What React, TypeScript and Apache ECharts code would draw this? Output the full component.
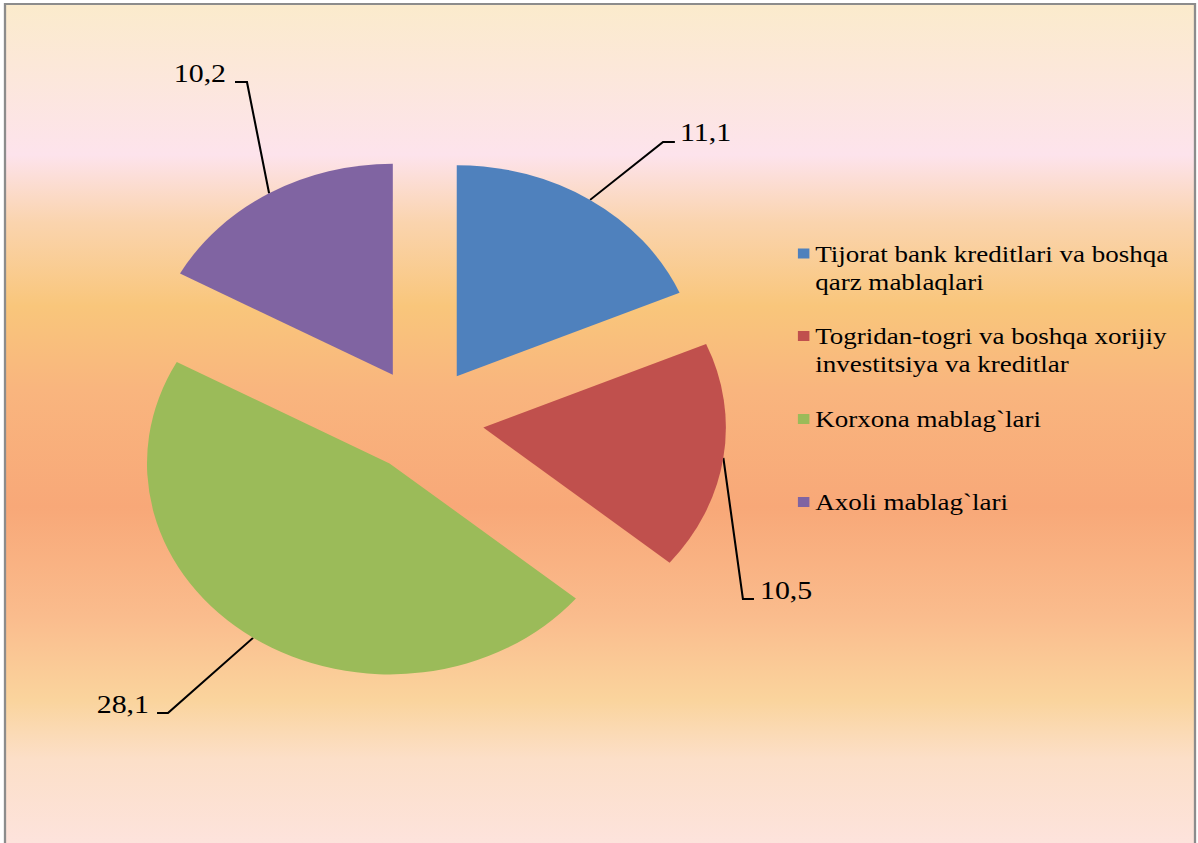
import React, { useEffect, useRef } from 'react';
import * as echarts from 'echarts';

// ---- data ----
const categories = [
  'Tijorat bank kreditlari va boshqa qarz mablaqlari',
  'Togridan-togri va boshqa xorijiy investitsiya va kreditlar',
  'Korxona mablag`lari',
  'Axoli mablag`lari',
];
const values = [11.1, 10.5, 28.1, 10.2];
const legendLines = [
  ['Tijorat bank kreditlari va boshqa', 'qarz mablaqlari'],
  ['Togridan-togri va boshqa xorijiy', 'investitsiya va kreditlar'],
  ['Korxona mablag`lari'],
  ['Axoli mablag`lari'],
];

// ---- styles / layout ----
const colors = ['#4F81BD', '#C0504D', '#9BBB59', '#8064A2'];
const FONT = "'Liberation Serif', 'Times New Roman', serif";
const PAGE_W = 1198;
const PAGE_H = 843;
const BASE_W = 1042; // chart drawn at this width and stretched to the page width
const SX = PAGE_W / BASE_W;
const CX = 368.4;
const CY = 420;
const RADIUS = 211;
const EXPLODE = 52.5;
const LEGEND_LEFT = 694;
const LEGEND_ICON_CENTER = [253.5, 336, 419, 502];
const LINE_H = 28;
const ICON = 10;
// square at the top of a tall box, so the icon sits beside the first text line
const TALL_ICON_H = ICON + LINE_H;
const TALL_ICON = `path://M0,0H${ICON}V${ICON}H0Z M0,${TALL_ICON_H - 0.01}H0.01V${TALL_ICON_H}H0Z`;
const LABEL_LAYOUT = [
  { x: 591.4, y: 132, align: 'left', bend: [576.7, 142], end: [587, 142] },
  { x: 661, y: 590, align: 'left', bend: [646.2, 599], end: [655.8, 599] },
  { x: 129.6, y: 704.5, align: 'right', bend: [146.1, 713], end: [136.6, 713] },
  { x: 196.6, y: 73, align: 'right', bend: [214.8, 82], end: [204.4, 82] },
];

export default function App() {
  const ref = useRef<HTMLDivElement>(null);

  useEffect(() => {
    if (!ref.current) return;
    const chart = echarts.init(ref.current, undefined, { renderer: 'svg' });

    const total = values.reduce((a, b) => a + b, 0);
    let acc = 0;
    const mids = values.map((v) => {
      const m = ((acc + v / 2) / total) * 2 * Math.PI;
      acc += v;
      return m;
    });

    const series = categories.map((_, i) => ({
      type: 'pie',
      name: 'slice' + i,
      radius: RADIUS,
      center: [CX + EXPLODE * Math.sin(mids[i]), CY - EXPLODE * Math.cos(mids[i])],
      startAngle: 90,
      clockwise: true,
      avoidLabelOverlap: false,
      silent: true,
      emphasis: { disabled: true },
      itemStyle: { borderWidth: 0 },
      label: {
        show: true,
        position: 'outside',
        fontFamily: FONT,
        fontSize: 26,
        color: '#000',
        formatter: (p: any) => String(p.value).replace('.', ','),
      },
      labelLine: {
        show: true,
        lineStyle: { color: '#000', width: 1.8 },
      },
      labelLayout: (params: any) => {
        if (params.dataIndex !== i) return {};
        const L = LABEL_LAYOUT[i];
        const p0 = params.labelLinePoints ? params.labelLinePoints[0] : null;
        const out: any = { x: L.x, y: L.y, align: L.align, verticalAlign: 'middle' };
        if (p0) out.labelLinePoints = [[p0[0], p0[1]], L.bend, L.end];
        return out;
      },
      data: categories.map((name, j) => ({
        name,
        value: values[j],
        itemStyle: { color: j === i ? colors[j] : 'rgba(0,0,0,0)', borderWidth: 0 },
        label: { show: j === i },
        labelLine: { show: j === i },
      })),
    }));

    const legend = categories.map((name, i) => {
      const twoLines = legendLines[i].length > 1;
      return {
        show: true,
        selectedMode: false,
        orient: 'vertical',
        left: LEGEND_LEFT,
        // bounding box top = icon centre - half a text line
        top: LEGEND_ICON_CENTER[i] - LINE_H / 2,
        padding: 0,
        itemWidth: ICON,
        itemHeight: twoLines ? TALL_ICON_H : ICON,
        data: [
          {
            name,
            icon: twoLines ? TALL_ICON : 'rect',
            itemStyle: { color: colors[i], opacity: 1, borderWidth: 0 },
          },
        ],
        formatter: () => legendLines[i].join('\n'),
        textStyle: {
          fontFamily: FONT,
          fontSize: 23.5,
          lineHeight: LINE_H,
          color: '#000',
        },
      };
    });

    const bg = new echarts.graphic.LinearGradient(
      0, 4, 0, PAGE_H,
      [
        { offset: 0, color: '#FBEBCC' },
        { offset: 0.07, color: '#FCE8D8' },
        { offset: 0.18, color: '#FDE3EC' },
        { offset: 0.26, color: '#FAD4AE' },
        { offset: 0.36, color: '#F9C67B' },
        { offset: 0.46, color: '#F9B57E' },
        { offset: 0.6, color: '#F8A878' },
        { offset: 0.73, color: '#FABC8D' },
        { offset: 0.83, color: '#FAD49D' },
        { offset: 0.9, color: '#FCDFC8' },
        { offset: 1, color: '#FDE3DC' },
      ],
      true
    );

    chart.setOption({
      animation: false,
      backgroundColor: '#ffffff',
      graphic: [
        {
          type: 'rect',
          z: -10,
          silent: true,
          shape: { x: 5 / SX, y: 4, width: 1190 / SX, height: 900 },
          style: { fill: bg, stroke: '#8c8c8c', lineWidth: 2 },
        },
      ],
      legend,
      series,
    });

    return () => chart.dispose();
  }, []);

  return (
    <div
      style={{
        position: 'absolute',
        left: 0,
        top: 0,
        width: PAGE_W,
        height: PAGE_H,
        overflow: 'hidden',
        background: '#fff',
      }}
    >
      <div
        ref={ref}
        style={{
          width: BASE_W,
          height: PAGE_H,
          transform: `scaleX(${SX})`,
          transformOrigin: '0 0',
        }}
      />
    </div>
  );
}
